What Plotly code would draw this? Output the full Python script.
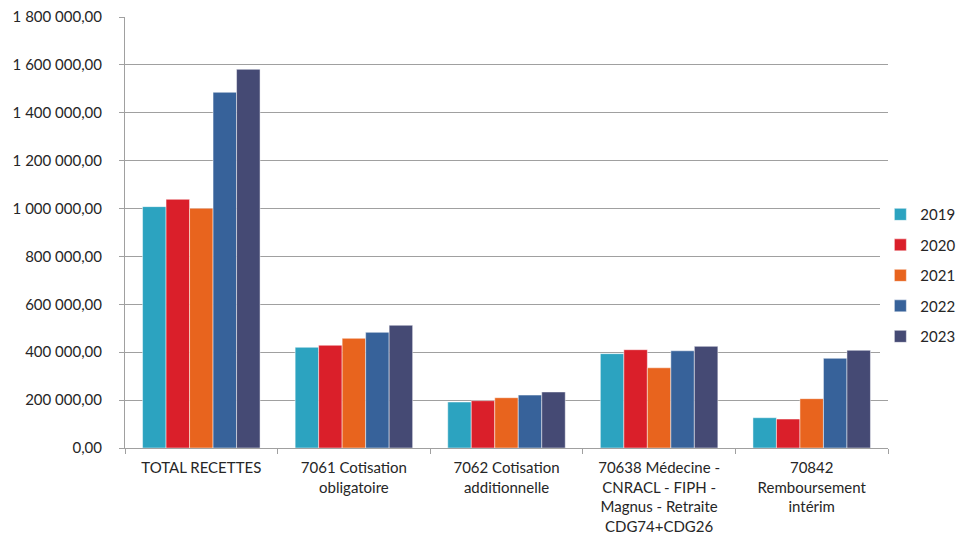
import plotly.graph_objects as go

categories = [
    "TOTAL RECETTES",
    "7061 Cotisation<br>obligatoire",
    "7062 Cotisation<br>additionnelle",
    "70638 Médecine -<br>CNRACL - FIPH -<br>Magnus - Retraite<br>CDG74+CDG26",
    "70842<br>Remboursement<br>intérim",
]
years = ["2019", "2020", "2021", "2022", "2023"]
v2019 = [1008000, 420500, 192000, 394000, 126500]
v2020 = [1038500, 429000, 197500, 410500, 121000]
v2021 = [1001000, 458000, 210000, 335000, 206000]
v2022 = [1485500, 483000, 221000, 406000, 374500]
v2023 = [1581500, 512500, 234000, 424500, 408000]
series = [v2019, v2020, v2021, v2022, v2023]
colors = ["#2CA3C0", "#DA1F2A", "#E8641E", "#37629A", "#454A74"]

fig = go.Figure()
for name, vals, col in zip(years, series, colors):
    fig.add_trace(go.Bar(
        x=categories, y=vals, name=name, legendgroup=name,
        marker=dict(color=col, line=dict(color="rgba(255,255,255,0.6)", width=0.8)),
    ))

font_family = "Lato, 'Noto Sans', sans-serif"
fig.update_layout(
    width=960, height=526,
    margin=dict(l=117, r=80, t=9, b=86, autoexpand=False),
    paper_bgcolor="white", plot_bgcolor="white",
    barmode="group", bargap=0.23, bargroupgap=0,
    separators=", ",
    font=dict(family=font_family, size=15, color="#262626"),
    legend=dict(x=0.99, xanchor="left", y=0.40, yanchor="middle",
                tracegroupgap=8, font=dict(size=15), itemwidth=30),
    showlegend=True,
)
fig.update_yaxes(
    range=[0, 1800000], dtick=200000, tickformat=",.2f",
    showgrid=True, gridcolor="#A0A0A0", gridwidth=1,
    showline=True, linecolor="#A0A0A0", linewidth=1,
    ticks="outside", ticklen=5, tickcolor="#A0A0A0", zeroline=False,
    automargin=False, ticklabelstandoff=14, ticklabeloverflow="allow",
)
fig.update_xaxes(
    showline=True, linecolor="#A0A0A0", linewidth=1,
    ticks="outside", ticklen=5, tickcolor="#A0A0A0", tickson="boundaries",
    tickangle=0, automargin=False, ticklabelstandoff=6, ticklabeloverflow="allow",
)
fig.write_html("out.html")
